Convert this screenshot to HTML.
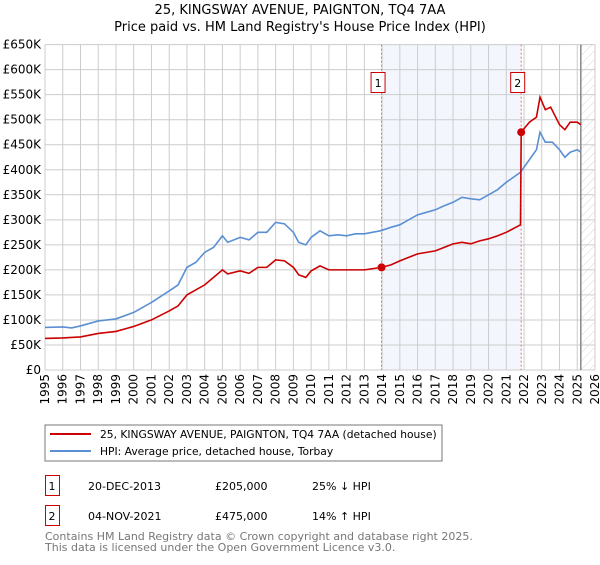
<!DOCTYPE html>
<html><head><meta charset="utf-8"><style>
body{margin:0;background:#fff;font-family:"Liberation Sans","DejaVu Sans",sans-serif}
svg text{font-family:"DejaVu Sans","Liberation Sans",sans-serif}
</style></head><body>
<svg id="c" width="600" height="560" xmlns="http://www.w3.org/2000/svg">
<defs><pattern id="h" width="6" height="6" patternUnits="userSpaceOnUse" patternTransform="rotate(45)"><line x1="0" y1="0" x2="0" y2="6" stroke="#ccc" stroke-width="0.8"/></pattern></defs>
<text x="300" y="14" text-anchor="middle" font-size="13">25, KINGSWAY AVENUE, PAIGNTON, TQ4 7AA</text>
<text x="300" y="31" text-anchor="middle" font-size="13">Price paid vs. HM Land Registry's House Price Index (HPI)</text>
<g id="grid"></g><g id="series"></g>
<rect x="45" y="425" width="397" height="36" fill="#fff" stroke="#777"/>
<line x1="50" y1="434" x2="91" y2="434" stroke="#cc0000" stroke-width="2"/>
<text x="100" y="438" font-size="10.7">25, KINGSWAY AVENUE, PAIGNTON, TQ4 7AA (detached house)</text>
<line x1="50" y1="451" x2="91" y2="451" stroke="#5b8fd4" stroke-width="2"/>
<text x="100" y="455" font-size="10.7">HPI: Average price, detached house, Torbay</text>
<g font-size="11">
<rect x="45.5" y="475.5" width="14" height="20" fill="#fff" stroke="#cc0000"/><text x="52" y="490" text-anchor="middle">1</text>
<text x="88" y="490">20-DEC-2013</text><text x="215" y="490">£205,000</text><text x="312" y="490">25% ↓ HPI</text>
<rect x="45.5" y="505.5" width="14" height="20" fill="#fff" stroke="#cc0000"/><text x="52" y="520" text-anchor="middle">2</text>
<text x="88" y="520">04-NOV-2021</text><text x="215" y="520">£475,000</text><text x="312" y="520">14% ↑ HPI</text>
</g>
<text x="45" y="540" font-size="11" fill="#777">Contains HM Land Registry data © Crown copyright and database right 2025.</text>
<text x="45" y="551" font-size="11" fill="#777">This data is licensed under the Open Government Licence v3.0.</text>
</svg>
<script>
const hpiT=[1995,1996,1996.5,1997,1998,1999,2000,2000.5,2001,2002,2002.5,2003,2003.5,2004,2004.5,2005,2005.3,2006,2006.5,2007,2007.5,2008,2008.5,2009,2009.3,2009.7,2010,2010.5,2011,2011.5,2012,2012.5,2013,2013.9,2014.5,2015,2015.5,2016,2016.5,2017,2017.5,2018,2018.5,2019,2019.5,2020,2020.5,2021,2021.8,2022.3,2022.7,2022.9,2023.2,2023.6,2024,2024.3,2024.6,2025,2025.2];
const hpiV=[85,86,84,88,98,102,115,125,135,158,170,205,215,235,245,268,255,265,260,275,275,295,292,275,255,250,265,278,268,270,268,272,272,278,285,290,300,310,315,320,328,335,345,342,340,350,360,375,395,420,440,475,455,455,440,425,435,440,435];
const redT=[1995,1996,1997,1998,1999,2000,2001,2002,2002.5,2003,2004,2005,2005.3,2006,2006.5,2007,2007.5,2008,2008.5,2009,2009.3,2009.7,2010,2010.5,2011,2011.5,2012,2012.5,2013,2013.97,2014.5,2015,2015.5,2016,2016.5,2017,2017.5,2018,2018.5,2019,2019.5,2020,2020.5,2021,2021.8,2021.84,2022.3,2022.7,2022.9,2023.2,2023.5,2024,2024.3,2024.6,2025,2025.2];
const redV=[63,64,66,73,77,87,100,118,128,150,170,200,192,198,193,205,205,220,218,205,190,185,198,208,200,200,200,200,200,205,210,218,225,232,235,238,245,252,255,252,258,262,268,275,290,475,495,505,545,520,525,490,480,495,495,490];
const saleT=[2013.97,2021.84];
const saleV=[205,475];
const yTicks=[0,50,100,150,200,250,300,350,400,450,500,550,600,650];
const xYears=[1995,1996,1997,1998,1999,2000,2001,2002,2003,2004,2005,2006,2007,2008,2009,2010,2011,2012,2013,2014,2015,2016,2017,2018,2019,2020,2021,2022,2023,2024,2025,2026];
const X=t=>45+(t-1995)*550/31, Y=v=>370-v*325.4/650;
const NS='http://www.w3.org/2000/svg';
function mk(p,tag,a){const e=document.createElementNS(NS,tag);for(const k in a)e.setAttribute(k,a[k]);p.appendChild(e);return e;}
const g=document.getElementById('grid'), s=document.getElementById('series');
let r=mk(g,'rect',{x:X(saleT[0]),y:Y(650),width:X(saleT[1])-X(saleT[0]),height:Y(0)-Y(650),fill:'#eef3fc',opacity:0.7});


yTicks.forEach(v=>{mk(g,'line',{x1:45,x2:595,y1:Y(v),y2:Y(v),stroke:'#ccc'});
 const t=mk(g,'text',{x:41,y:Y(v)+4,'text-anchor':'end','font-size':12});t.textContent=v==0?'£0':'£'+v+'K';
 
 });
xYears.forEach(y=>{mk(g,'line',{x1:X(y),x2:X(y),y1:Y(650),y2:Y(0),stroke:'#ccc'});
 const t=mk(g,'text',{x:0,y:0,'text-anchor':'end','font-size':12,transform:`translate(${X(y)+4},374) rotate(-90)`});t.textContent=y;
 
 });
const hx=X(2025.2);
let hr=mk(g,'rect',{x:hx,y:Y(650),width:595-hx,height:Y(0)-Y(650),fill:'url(#h)'});


mk(g,'line',{x1:hx,x2:hx,y1:Y(650),y2:Y(0),stroke:'#888','stroke-width':1.5});
saleT.forEach((t,i)=>{mk(g,'line',{x1:X(t),x2:X(t),y1:Y(650),y2:Y(0),stroke:'#f66','stroke-dasharray':'2,2'});
 const b=mk(g,'rect',{x:X(t)-10.5,y:72.5,width:14,height:20,fill:'#fff',stroke:'#cc0000'});
 
 
 const tx=mk(g,'text',{x:X(t)-3.5,y:87,'text-anchor':'middle','font-size':11});tx.textContent=i+1;});
function line(T,V,c,name){const p=mk(s,'polyline',{points:T.map((t,i)=>X(t)+','+Y(V[i])).join(' '),fill:'none',stroke:c,'stroke-width':1.6});
 
 }
line(hpiT,hpiV,'#5b8fd4','hpi-line');
line(redT,redV,'#cc0000','property-price-line');
saleT.forEach((t,i)=>{const c=mk(s,'circle',{cx:X(t),cy:Y(saleV[i]),r:4,fill:'#cc0000'});
 
 });
</script>
</body></html>
